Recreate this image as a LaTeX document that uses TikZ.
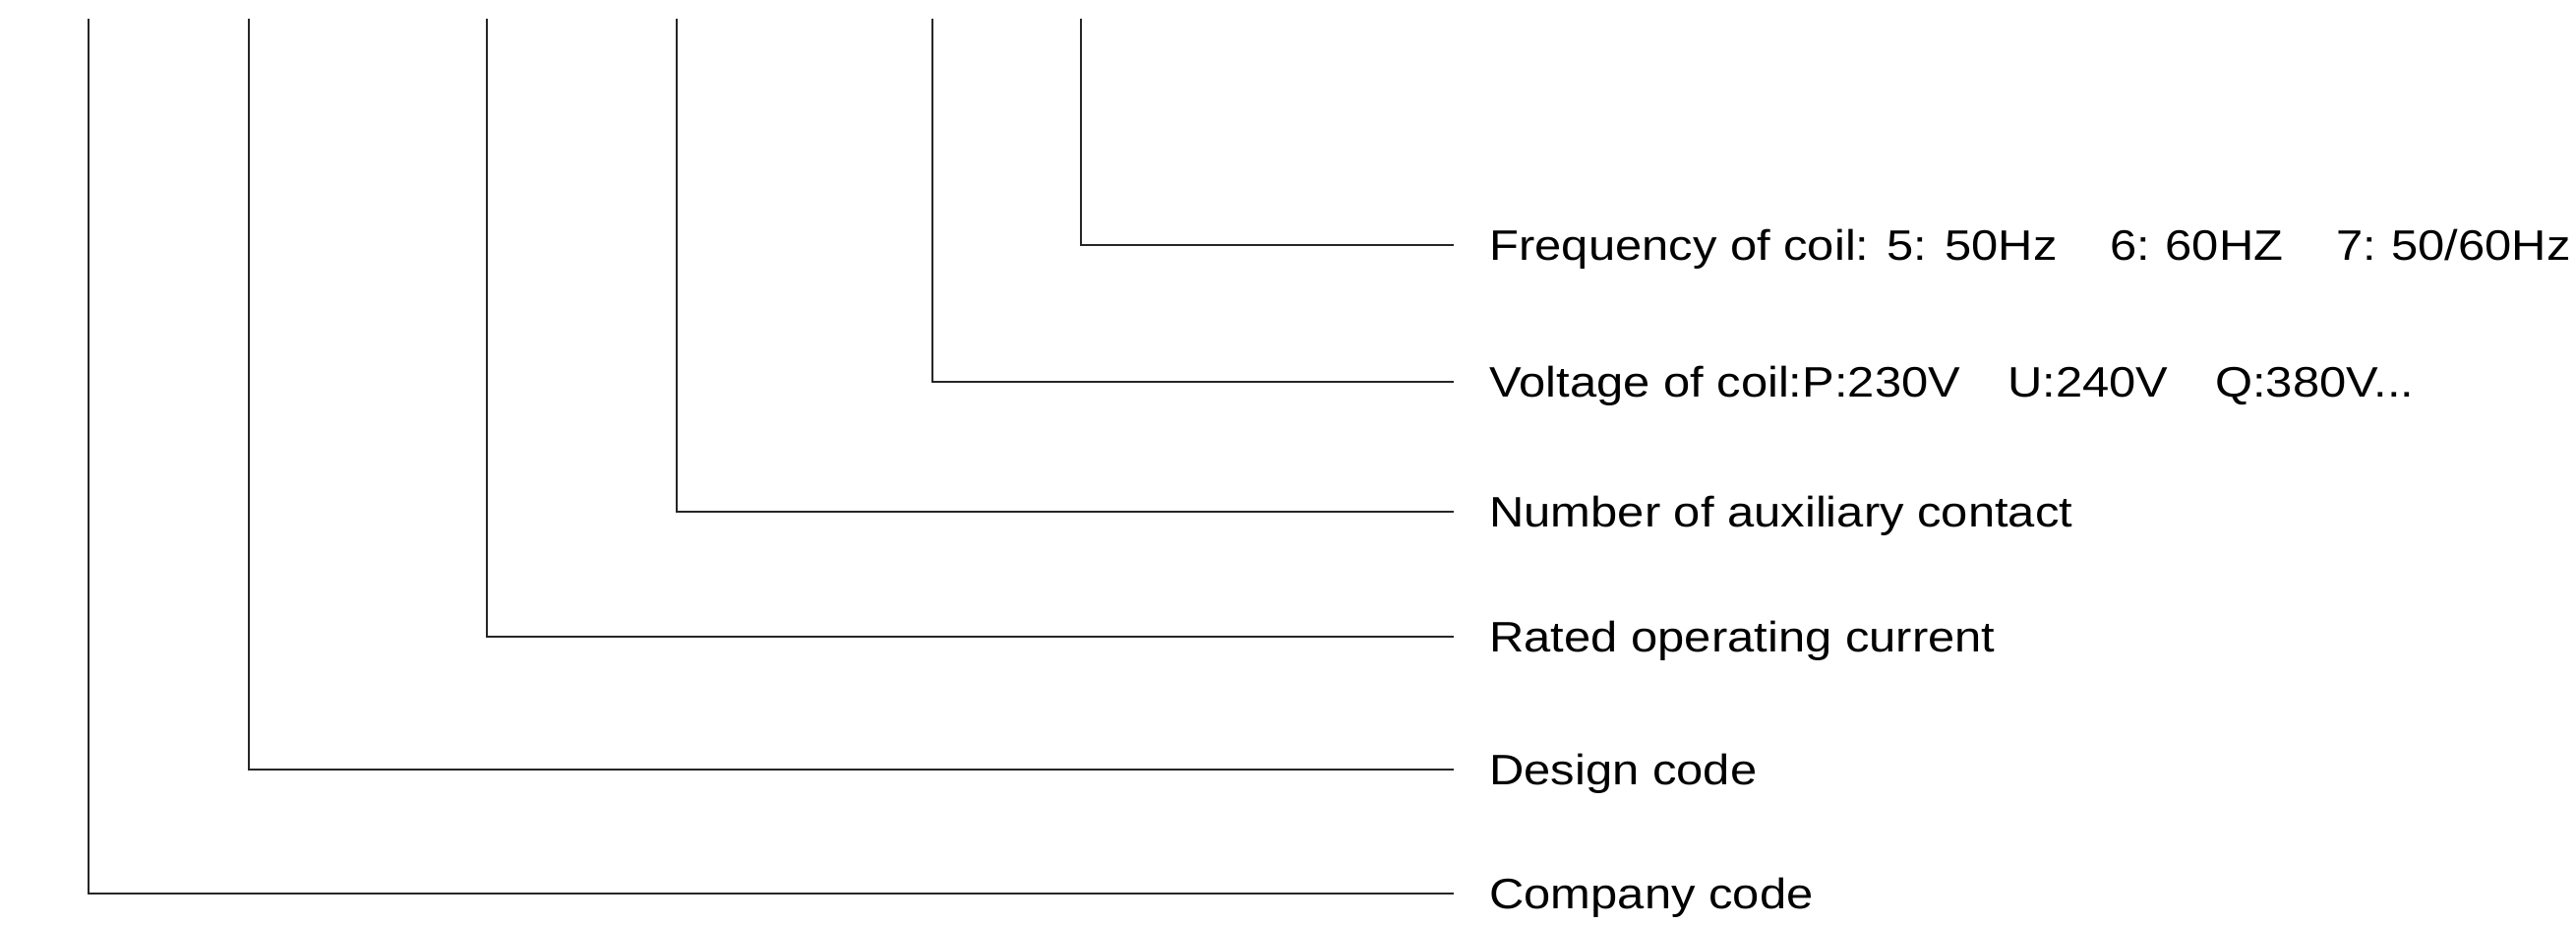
\documentclass[tikz,border=0pt]{standalone}
\usepackage{fontspec}
\setmainfont[FakeStretch=1.13]{Liberation Sans}
\begin{document}
\begin{tikzpicture}[x=0.5pt,y=-0.5pt,
  lab/.style={anchor=west,inner sep=0pt,text height=15.5pt,text depth=0pt,
    font=\fontsize{21.65pt}{26pt}\selectfont,text=black},
  leader/.style={line width=1pt,draw=black!85}]
\useasboundingbox (0,0) rectangle (2619,941);
% top ends of the leaders
\coordinate (t1) at (1099,19);
\coordinate (t2) at (948,19);
\coordinate (t3) at (688,19);
\coordinate (t4) at (495,19);
\coordinate (t5) at (253,19);
\coordinate (t6) at (90,19);
% labels
\node[lab] (l1) at (1514,249) {Frequency of coil: 5: 50Hz\hspace{27pt}6:\hspace{-1.5pt} 60HZ\hspace{27pt}7:\hspace{-1.5pt} 50/60Hz};
\node[lab] (l2) at (1514,388) {Voltage of coil:P:230V\hspace{24pt}U:240V\hspace{24pt}Q:380V...};
\node[lab] (l3) at (1514,520) {Number of auxiliary contact};
\node[lab] (l4) at (1514,647) {Rated operating current};
\node[lab] (l5) at (1514,782) {Design code};
\node[lab] (l6) at (1514,908) {Company code};
% leaders
\foreach \i in {1,...,6}{
  \draw[leader] (t\i) |- ([xshift=-18pt]l\i.west);
}
\end{tikzpicture}
\end{document}
